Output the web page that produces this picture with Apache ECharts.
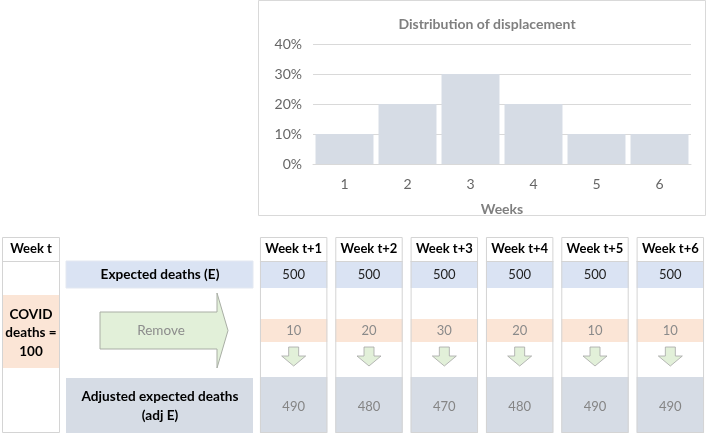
<!DOCTYPE html>
<html>
<head>
<meta charset="utf-8">
<script src="https://cdn.jsdelivr.net/npm/echarts@6/dist/echarts.min.js"></script>
<style>html,body{margin:0;padding:0;background:#fff}#c{width:708px;height:436px}</style>
</head>
<body>
<div id="c"></div>
<script>
// ---- data ----
const weeks = ['1', '2', '3', '4', '5', '6'];
const displacement = [0.10, 0.20, 0.30, 0.20, 0.10, 0.10];
const weekHeaders = ['Week t+1', 'Week t+2', 'Week t+3', 'Week t+4', 'Week t+5', 'Week t+6'];
const expectedDeaths = [500, 500, 500, 500, 500, 500];
const removedDeaths = [10, 20, 30, 20, 10, 10];
const adjustedDeaths = [490, 480, 470, 480, 490, 490];
const covidDeaths = 100;

const FONT = 'Lato, "Open Sans", sans-serif';
const BLUE = '#dae3f3', PINK = '#fbe5d6', GREY = '#d6dce5', GREEN = '#e2f0d9';
const BORDER = '#d4d4d4';

const chart = echarts.init(document.getElementById('c'));

function renderWeek(params, api) {
  const i = api.value(0);
  const cx = api.coord([i, 0])[0];
  const w = api.size([1, 0])[0] * 0.895;
  const x0 = cx - w / 2;
  const Y = v => api.coord([i, v])[1];
  const k = params.dataIndex;
  const txt = (t, y, opts) => ({
    type: 'text',
    style: Object.assign({ text: t, x: cx, y: y, align: 'center', verticalAlign: 'middle',
      fontFamily: FONT, fontSize: 13, fill: '#222' }, opts || {})
  });
  const rect = (ya, yb, fill) => ({
    type: 'rect', shape: { x: x0, y: Y(ya), width: w, height: Y(yb) - Y(ya) },
    style: { fill: fill, stroke: null }
  });
  const top = Y(347), mid = Y(356), bot = Y(366);
  return {
    type: 'group',
    children: [
      rect(237, 433, '#fff'),
      rect(261, 288, BLUE),
      rect(319, 342, PINK),
      rect(377, 433, GREY),
      { type: 'rect', shape: { x: x0 + 0.5, y: Y(237) + 0.5, width: w - 1, height: Y(433) - Y(237) - 1 },
        style: { fill: null, stroke: BORDER, lineWidth: 1 } },
      { type: 'line', shape: { x1: x0, y1: Y(261) + 0.5, x2: x0 + w, y2: Y(261) + 0.5 }, style: { stroke: BORDER } },
      { type: 'polygon', shape: { points: [[cx - 5, top], [cx + 5, top], [cx + 5, mid], [cx + 12, mid], [cx, bot], [cx - 12, mid], [cx - 5, mid]] },
        style: { fill: GREEN, stroke: '#a6a6a6', lineWidth: 0.8 } },
      txt(weekHeaders[k], 249, { fontWeight: 'bold', fill: '#000' }),
      txt(String(api.value(1)), 275, { fill: '#222' }),
      txt(String(api.value(2)), 331, { fill: '#8a8a8a' }),
      txt(String(api.value(3)), 407, { fill: '#858585' })
    ]
  };
}

const leftGraphics = [
  // chart border
  { type: 'rect', shape: { x: 258.5, y: 0.5, width: 447, height: 215 }, style: { fill: null, stroke: '#d9d9d9' }, z: 10 },
  // Week t column
  { type: 'rect', shape: { x: 2, y: 295, width: 58, height: 73 }, style: { fill: PINK } },
  { type: 'rect', shape: { x: 2.5, y: 237.5, width: 57, height: 195 }, style: { fill: null, stroke: BORDER } },
  { type: 'line', shape: { x1: 2, y1: 261.5, x2: 60, y2: 261.5 }, style: { stroke: BORDER } },
  { type: 'text', style: { text: 'Week t', x: 31, y: 249, align: 'center', verticalAlign: 'middle', fontFamily: FONT, fontSize: 13, fontWeight: 'bold', fill: '#000' } },
  { type: 'text', style: { text: 'COVID\ndeaths =\n' + covidDeaths, x: 31, y: 333, align: 'center', verticalAlign: 'middle', lineHeight: 18.5, fontFamily: FONT, fontSize: 13.5, fontWeight: 'bold', fill: '#000' } },
  // label bands
  { type: 'rect', shape: { x: 66, y: 261, width: 187, height: 27 }, style: { fill: BLUE, stroke: '#e3e8f1' } },
  { type: 'text', style: { text: 'Expected deaths (E)', x: 160, y: 275, align: 'center', verticalAlign: 'middle', fontFamily: FONT, fontSize: 13.6, fontWeight: 'bold', fill: '#000' } },
  { type: 'rect', shape: { x: 66, y: 378, width: 187, height: 55 }, style: { fill: GREY } },
  { type: 'text', style: { text: 'Adjusted expected deaths\n(adj E)', x: 160, y: 406, align: 'center', verticalAlign: 'middle', lineHeight: 19, fontFamily: FONT, fontSize: 13.6, fontWeight: 'bold', fill: '#000' } },
  // Remove arrow
  { type: 'polygon', shape: { points: [[100, 312], [217, 312], [217, 293], [228, 330.5], [217, 368], [217, 349], [100, 349]] },
    style: { fill: GREEN, stroke: '#a9aea5', lineWidth: 1 } },
  { type: 'text', style: { text: 'Remove', x: 161, y: 331, align: 'center', verticalAlign: 'middle', fontFamily: FONT, fontSize: 13.5, fill: '#8c8c8c' } }
];

chart.setOption({
  animation: false,
  backgroundColor: '#fff',
  title: {
    text: 'Distribution of displacement', left: 482, top: 12, textAlign: 'center',
    textStyle: { fontFamily: FONT, fontSize: 14, fontWeight: 'bold', color: '#7f7f7f' }
  },
  grid: [
    { left: 313, top: 44, width: 378, height: 120 },
    { left: 256, top: 0, width: 456, height: 436 }
  ],
  xAxis: [
    { type: 'category', gridIndex: 0, data: weeks,
      axisLine: { lineStyle: { color: '#d9d9d9' } }, axisTick: { show: false },
      axisLabel: { margin: 13, fontFamily: FONT, fontSize: 14, color: '#666' },
      name: 'Weeks', nameLocation: 'middle', nameGap: 38,
      nameTextStyle: { fontFamily: FONT, fontSize: 14, fontWeight: 'bold', color: '#7f7f7f' } },
    { type: 'value', gridIndex: 1, min: 0.5, max: 6.5, show: false }
  ],
  yAxis: [
    { type: 'value', gridIndex: 0, min: 0, max: 0.4, interval: 0.1,
      axisLine: { show: false }, axisTick: { show: false },
      splitLine: { lineStyle: { color: '#d9d9d9' } },
      axisLabel: { margin: 11, fontFamily: FONT, fontSize: 14, color: '#666',
        formatter: v => Math.round(v * 100) + '%' } },
    { type: 'value', gridIndex: 1, min: 0, max: 436, inverse: true, show: false }
  ],
  series: [
    { type: 'bar', xAxisIndex: 0, yAxisIndex: 0, data: displacement, barCategoryGap: '8%',
      itemStyle: { color: '#d6dce5' } },
    { type: 'custom', xAxisIndex: 1, yAxisIndex: 1, clip: false,
      data: weekHeaders.map((h, k) => [k + 1, expectedDeaths[k], removedDeaths[k], adjustedDeaths[k]]),
      encode: { x: 0, y: 1 },
      renderItem: renderWeek }
  ],
  graphic: leftGraphics
});
</script>
</body>
</html>
